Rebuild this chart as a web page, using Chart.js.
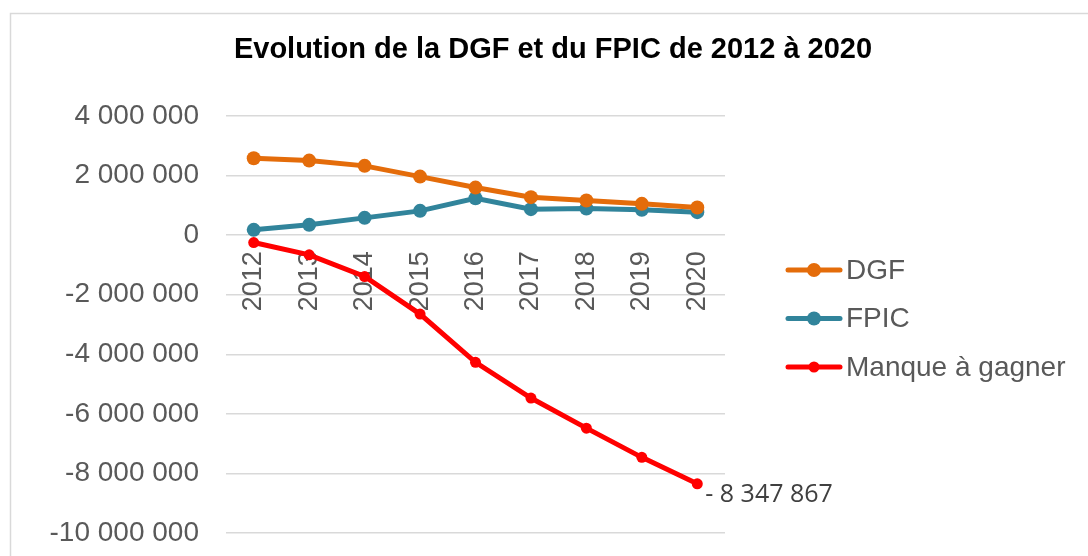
<!DOCTYPE html>
<html lang="fr">
<head>
<meta charset="utf-8">
<title>Evolution de la DGF et du FPIC</title>
<script src="https://cdn.jsdelivr.net/npm/chart.js@4.4.0/dist/chart.umd.min.js"></script>
<style>
    html, body { margin: 0; padding: 0; background: #fff; }
    #wrap { width: 1088px; height: 556px; position: relative; }
</style>
</head>
<body>
<div id="wrap"><canvas id="dgfChart"></canvas></div>
<script>
// === Data ===
const chartTitle = 'Evolution de la DGF et du FPIC de 2012 à 2020';
const years = ['2012', '2013', '2014', '2015', '2016', '2017', '2018', '2019', '2020'];
const dgf = [2584000, 2503000, 2326000, 1966000, 1597000, 1275000, 1161000, 1050000, 926000];
const fpic = [178000, 346000, 580000, 815000, 1240000, 872000, 893000, 849000, 772000];
const manque = [-248000, -660000, -1390000, -2650000, -4270000, -5470000, -6480000, -7460000, -8347867];
const seriesNames = ['DGF', 'FPIC', 'Manque à gagner'];

const orange = '#E46C0A';
const teal = '#31849B';
const red = '#FF0000';
const gridGrey = '#D9D9D9';
const labelGrey = '#595959';
const arial = '"Liberation Sans", Arial, sans-serif';

function spaced(v) {
    const s = String(Math.abs(v)).replace(/\B(?=(\d{3})+(?!\d))/g, ' ');
    return v < 0 ? '-' + s : s;
}

// Light frame around the chart (runs off the right/bottom edge) + title
const framePlugin = {
    id: 'frame',
    beforeDraw(chart) {
        const ctx = chart.ctx;
        ctx.save();
        ctx.strokeStyle = gridGrey;
        ctx.lineWidth = 1.5;
        ctx.strokeRect(10.5, 13.5, 1200, 700);
        ctx.fillStyle = '#000';
        ctx.font = 'bold 29px ' + arial;
        ctx.textAlign = 'center';
        ctx.textBaseline = 'middle';
        ctx.fillText(chartTitle, 553, 50);
        ctx.restore();
    }
};

// Legend drawn as line + marker, like the original
const legendPlugin = {
    id: 'lineLegend',
    afterDraw(chart) {
        const ctx = chart.ctx;
        ctx.save();
        chart.data.datasets.forEach((ds, i) => {
            const y = 270 + i * 48.5;
            ctx.strokeStyle = ds.borderColor;
            ctx.lineWidth = 5;
            ctx.lineCap = 'round';
            ctx.beginPath();
            ctx.moveTo(788, y);
            ctx.lineTo(840, y);
            ctx.stroke();
            ctx.fillStyle = ds.borderColor;
            ctx.beginPath();
            ctx.arc(814, y, ds.pointRadius, 0, Math.PI * 2);
            ctx.fill();
            ctx.fillStyle = labelGrey;
            ctx.font = '28px ' + arial;
            ctx.textAlign = 'left';
            ctx.textBaseline = 'middle';
            ctx.fillText(ds.label, 846, y + 1);
        });
        ctx.restore();
    }
};

// Value label on the last point of "Manque à gagner"
const lastLabelPlugin = {
    id: 'lastLabel',
    afterDatasetsDraw(chart) {
        const meta = chart.getDatasetMeta(2);
        const last = meta.data[meta.data.length - 1];
        const v = manque[manque.length - 1];
        const ctx = chart.ctx;
        ctx.save();
        ctx.fillStyle = '#404040';
        ctx.font = '25px "Open Sans", sans-serif';
        ctx.textAlign = 'left';
        ctx.textBaseline = 'middle';
        ctx.fillText('- ' + spaced(Math.abs(v)), last.x + 8, last.y + 11);
        ctx.restore();
    }
};

const ctx = document.getElementById('dgfChart').getContext('2d');
const chart = new Chart(ctx, {
    type: 'line',
    data: {
        labels: years,
        datasets: [{
            label: seriesNames[0],
            data: dgf,
            borderColor: orange,
            backgroundColor: orange,
            borderWidth: 5,
            pointRadius: 7,
            pointBackgroundColor: orange,
            pointBorderWidth: 0,
            tension: 0
        }, {
            label: seriesNames[1],
            data: fpic,
            borderColor: teal,
            backgroundColor: teal,
            borderWidth: 5,
            pointRadius: 7,
            pointBackgroundColor: teal,
            pointBorderWidth: 0,
            tension: 0
        }, {
            label: seriesNames[2],
            data: manque,
            borderColor: red,
            backgroundColor: red,
            borderWidth: 5,
            pointRadius: 5.5,
            pointBackgroundColor: red,
            pointBorderWidth: 0,
            tension: 0
        }]
    },
    options: {
        responsive: true,
        maintainAspectRatio: false,
        animation: false,
        layout: {
            padding: { left: 0, right: 363, top: 116, bottom: 23 }
        },
        plugins: {
            legend: { display: false },
            tooltip: { enabled: false },
            title: { display: false }
        },
        scales: {
            x: {
                position: { y: 0 },
                offset: true,
                grid: { display: false, drawTicks: false },
                border: { display: false },
                ticks: {
                    color: labelGrey,
                    font: { family: arial, size: 27 },
                    minRotation: 90,
                    maxRotation: 90,
                    padding: 16
                },
                afterFit: scale => { scale.paddingLeft = 0; scale.paddingRight = 0; }
            },
            y: {
                min: -10000000,
                max: 4000000,
                grid: { color: gridGrey, lineWidth: 1.5, drawTicks: false },
                border: { display: false },
                ticks: {
                    stepSize: 2000000,
                    color: labelGrey,
                    font: { family: arial, size: 28 },
                    padding: 27,
                    callback: v => spaced(v)
                },
                afterFit: scale => {
                    scale.width = 226;
                    scale.paddingTop = 0;
                    scale.paddingBottom = 0;
                }
            }
        }
    },
    plugins: [framePlugin, legendPlugin, lastLabelPlugin]
});
</script>
</body>
</html>
